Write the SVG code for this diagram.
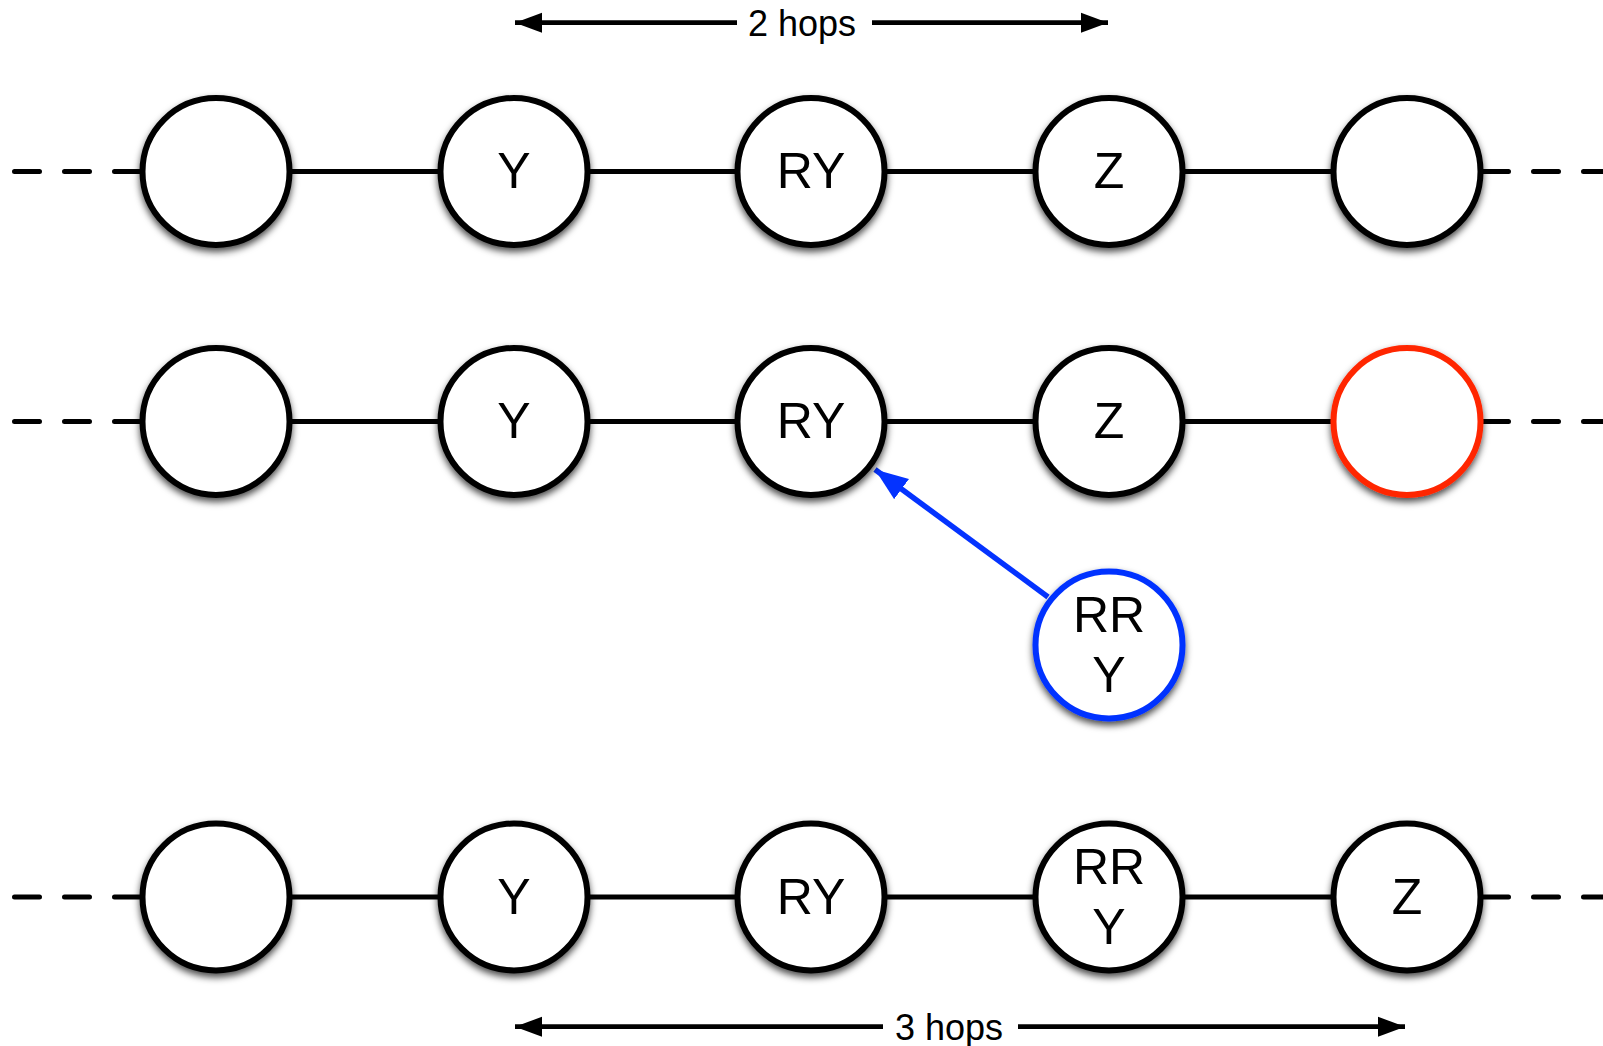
<svg xmlns="http://www.w3.org/2000/svg" width="1603" height="1046" viewBox="0 0 1603 1046">
<style>
.n{fill:#fff;stroke:#000;stroke-width:6;filter:url(#sh)}
.red{stroke:#ff2600}
.blue{stroke:#0433ff}
.t{font-family:"Liberation Sans",Arial,Helvetica,sans-serif;font-size:50px;fill:#000;text-anchor:middle}
.h{font-family:"Liberation Sans",Arial,Helvetica,sans-serif;font-size:36px;fill:#000;text-anchor:middle}
.ln{stroke:#000;stroke-width:5;fill:none}
.dash{stroke:#000;stroke-width:5;fill:none;stroke-dasharray:25 25;stroke-linecap:round}
.arr{stroke:#000;stroke-width:4.7;fill:none}
.barr{stroke:#0433ff;stroke-width:5.5;fill:none}
</style>
<defs>
<filter id="sh" x="-20%" y="-20%" width="140%" height="150%">
<feDropShadow dx="0" dy="4" stdDeviation="3.5" flood-color="#000" flood-opacity="0.7"/>
</filter>
<marker id="ah" markerUnits="userSpaceOnUse" viewBox="0 0 28 22" markerWidth="28" markerHeight="22" refX="27" refY="11" orient="auto-start-reverse">
<path d="M0,1 L27,11 L0,21 Z" fill="#000"/>
</marker>
<marker id="bh" markerUnits="userSpaceOnUse" viewBox="0 0 34 26" markerWidth="34" markerHeight="26" refX="33" refY="13" orient="auto">
<path d="M0,0.5 L33,13 L0,25.5 Z" fill="#0433ff"/>
</marker>
</defs>
<rect width="1603" height="1046" fill="#fff"/>
<g id="connectors">
<line class="dash" x1="14.5" y1="171.5" x2="190" y2="171.5"/>
<line class="ln" x1="216" y1="171.5" x2="1407" y2="171.5"/>
<line class="dash" x1="1483.5" y1="171.5" x2="1603" y2="171.5"/>
<line class="dash" x1="14.5" y1="421.5" x2="190" y2="421.5"/>
<line class="ln" x1="216" y1="421.5" x2="1407" y2="421.5"/>
<line class="dash" x1="1483.5" y1="421.5" x2="1603" y2="421.5"/>
<line class="dash" x1="14.5" y1="897" x2="190" y2="897"/>
<line class="ln" x1="216" y1="897" x2="1407" y2="897"/>
<line class="dash" x1="1483.5" y1="897" x2="1603" y2="897"/>
<line class="barr" x1="1048" y1="597" x2="875" y2="469.5" marker-end="url(#bh)"/>
<line class="arr" x1="737" y1="22.7" x2="515" y2="22.7" marker-end="url(#ah)"/>
<line class="arr" x1="872" y1="22.7" x2="1108" y2="22.7" marker-end="url(#ah)"/>
<line class="arr" x1="883" y1="1026.7" x2="515" y2="1026.7" marker-end="url(#ah)"/>
<line class="arr" x1="1018" y1="1026.7" x2="1405" y2="1026.7" marker-end="url(#ah)"/>
</g>
<g id="label-2hops"><text class="h" x="802" y="35.5">2 hops</text></g>
<g id="label-3hops"><text class="h" x="949" y="1039.5">3 hops</text></g>
<g id="r1n1"><circle class="n" cx="216" cy="171.5" r="73.5"/></g>
<g id="r1n2"><circle class="n" cx="514" cy="171.5" r="73.5"/><text class="t" x="514" y="188">Y</text></g>
<g id="r1n3"><circle class="n" cx="811" cy="171.5" r="73.5"/><text class="t" x="811" y="188">RY</text></g>
<g id="r1n4"><circle class="n" cx="1109" cy="171.5" r="73.5"/><text class="t" x="1109" y="188">Z</text></g>
<g id="r1n5"><circle class="n" cx="1407" cy="171.5" r="73.5"/></g>
<g id="r2n1"><circle class="n" cx="216" cy="421.5" r="73.5"/></g>
<g id="r2n2"><circle class="n" cx="514" cy="421.5" r="73.5"/><text class="t" x="514" y="438">Y</text></g>
<g id="r2n3"><circle class="n" cx="811" cy="421.5" r="73.5"/><text class="t" x="811" y="438">RY</text></g>
<g id="r2n4"><circle class="n" cx="1109" cy="421.5" r="73.5"/><text class="t" x="1109" y="438">Z</text></g>
<g id="r2n5"><circle class="n red" cx="1407" cy="421.5" r="73.5"/></g>
<g id="blue-rry"><circle class="n blue" cx="1109" cy="645" r="73.5"/><text class="t" x="1109" y="632">RR</text><text class="t" x="1109" y="692">Y</text></g>
<g id="r3n1"><circle class="n" cx="216" cy="897" r="73.5"/></g>
<g id="r3n2"><circle class="n" cx="514" cy="897" r="73.5"/><text class="t" x="514" y="913.5">Y</text></g>
<g id="r3n3"><circle class="n" cx="811" cy="897" r="73.5"/><text class="t" x="811" y="913.5">RY</text></g>
<g id="r3n4"><circle class="n" cx="1109" cy="897" r="73.5"/><text class="t" x="1109" y="884">RR</text><text class="t" x="1109" y="944">Y</text></g>
<g id="r3n5"><circle class="n" cx="1407" cy="897" r="73.5"/><text class="t" x="1407" y="913.5">Z</text></g>
</svg>
